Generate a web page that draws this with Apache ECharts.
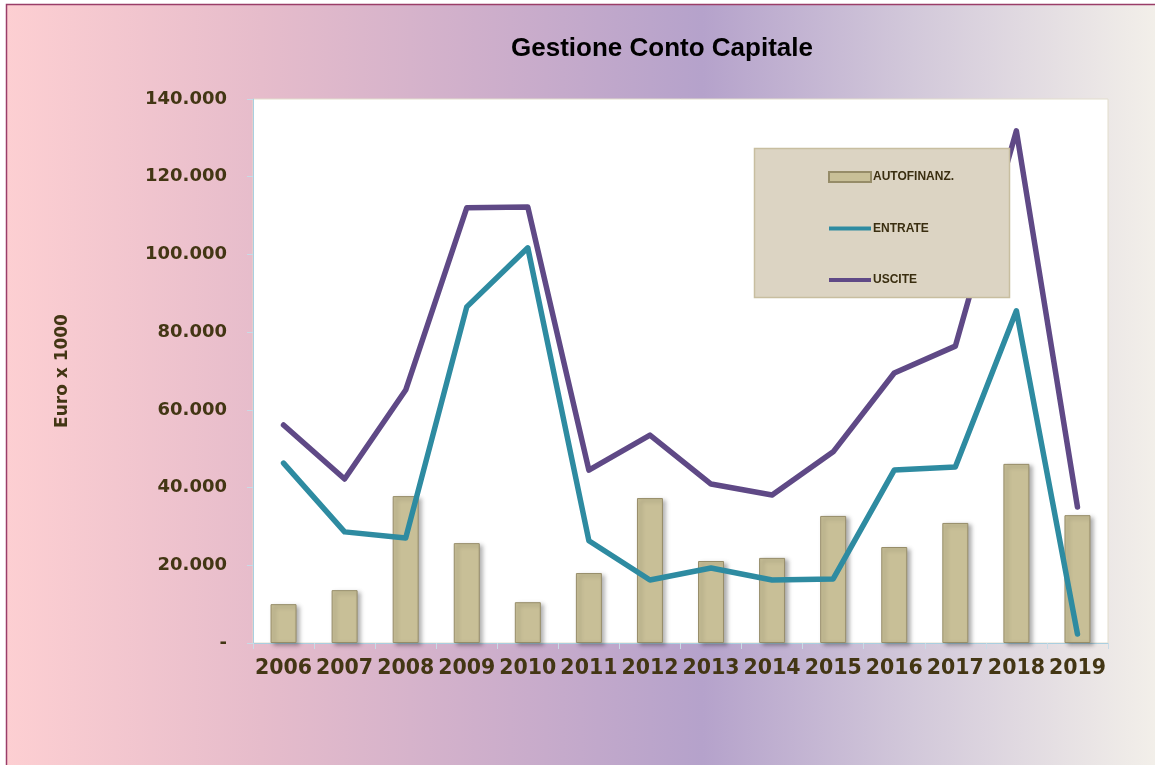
<!DOCTYPE html>
<html>
<head>
<meta charset="utf-8">
<script src="https://cdn.jsdelivr.net/npm/echarts@6/dist/echarts.min.js"></script>
<style>
html,body{margin:0;padding:0;background:#ffffff;}
#c{width:1155px;height:765px;}
</style>
</head>
<body>
<div id="c"></div>
<script>
var years = ['2006','2007','2008','2009','2010','2011','2012','2013','2014','2015','2016','2017','2018','2019'];
var autofinanz = [10000, 13600, 37800, 25700, 10500, 18000, 37300, 21100, 21900, 32700, 24700, 30900, 46100, 32900];
var entrate = [46300, 28600, 27000, 86500, 101700, 26300, 16200, 19300, 16200, 16500, 44500, 45300, 85500, 2300];
var uscite = [56100, 42200, 65100, 112000, 112200, 44500, 53500, 40900, 38100, 49200, 69500, 76400, 131800, 35000];
var yTicks = [0, 20000, 40000, 60000, 80000, 100000, 120000, 140000];

function fmt(v){
  if (v === 0) return '-';
  return String(v).replace(/\B(?=(\d{3})+(?!\d))/g, '.');
}

var chart = echarts.init(document.getElementById('c'));
var labelColor = '#433614';
chart.setOption({
  animation: false,
  backgroundColor: 'transparent',
  graphic: [
    {
      type: 'rect', z: -10, silent: true,
      shape: {x: 6.5, y: 4.5, width: 1160, height: 780},
      style: {
        fill: new echarts.graphic.LinearGradient(0, 0, 1, 0, [
          {offset: 0, color: '#fdcfd2'},
          {offset: 0.22, color: '#e6bccb'},
          {offset: 0.42, color: '#cdaecb'},
          {offset: 0.6, color: '#b5a2cb'},
          {offset: 0.78, color: '#d2c8da'},
          {offset: 1, color: '#f4f1ea'}
        ]),
        stroke: '#9a3d68', lineWidth: 1.5
      }
    },
    {
      type: 'rect', z: 10, silent: true,
      shape: {x: 754.5, y: 148.5, width: 255, height: 149},
      style: {fill: '#dcd4c3', stroke: '#c8bea0', lineWidth: 1.5}
    }
  ],
  title: {
    text: 'Gestione Conto Capitale',
    left: 657, top: 31, textAlign: 'center',
    textStyle: {fontFamily: 'Liberation Sans', fontWeight: 'bold', fontSize: 26, color: '#000000'}
  },
  legend: {
    orient: 'vertical',
    left: 823, top: 166,
    itemWidth: 42, itemHeight: 10,
    itemGap: 39.5,
    z: 20,
    data: [
      {name: 'AUTOFINANZ.', icon: 'rect'},
      {name: 'ENTRATE', icon: 'path://M0,3 L42,3 L42,7 L0,7 Z'},
      {name: 'USCITE', icon: 'path://M0,3 L42,3 L42,7 L0,7 Z'}
    ],
    textStyle: {fontFamily: 'Liberation Sans Narrow, Liberation Sans', fontWeight: 'bold', fontSize: 12, color: '#3a2e10', padding: [0,0,0,-3]}
  },
  grid: {
    left: 253, right: 47, top: 99, bottom: 122,
    show: true, backgroundColor: '#ffffff', borderColor: '#e2ddcc', borderWidth: 1
  },
  xAxis: {
    type: 'category',
    data: years,
    axisLine: {lineStyle: {color: '#a9cfe0', width: 1}},
    axisTick: {show: true, length: 6, lineStyle: {color: '#c8dbe6'}},
    axisLabel: {interval: 0, hideOverlap: false, fontFamily: 'DejaVu Sans', fontWeight: 'bold', fontSize: 20.5, color: labelColor, margin: 15}
  },
  yAxis: {
    type: 'value',
    min: 0, max: 140000, interval: 20000,
    name: 'Euro x 1000',
    nameLocation: 'middle',
    nameGap: 182,
    nameTextStyle: {fontFamily: 'DejaVu Sans', fontWeight: 'bold', fontSize: 17, color: labelColor},
    axisLine: {show: true, lineStyle: {color: '#a9cfe0', width: 1}},
    axisTick: {show: true, length: 6, lineStyle: {color: '#c8dbe6'}},
    splitLine: {show: false},
    axisLabel: {
      fontFamily: 'DejaVu Sans', fontWeight: 'bold', fontSize: 18, color: labelColor, margin: 26,
      formatter: function(v){ return yTicks.indexOf(v) >= 0 ? fmt(v) : ''; }
    }
  },
  series: [
    {
      name: 'AUTOFINANZ.', type: 'bar', data: autofinanz,
      barWidth: 26,
      itemStyle: {color: '#c8bf97', borderColor: '#968c68', borderWidth: 1,
        shadowColor: 'rgba(0,0,0,0.3)', shadowBlur: 4, shadowOffsetX: 3, shadowOffsetY: 2},
      z: 2
    },
    {
      name: 'ENTRATE', type: 'line', data: entrate,
      showSymbol: false, symbol: 'none',
      lineStyle: {color: '#2e8ba1', width: 5.5, cap: 'round', join: 'round'},
      itemStyle: {color: '#2e8ba1'},
      z: 3
    },
    {
      name: 'USCITE', type: 'line', data: uscite,
      showSymbol: false, symbol: 'none',
      lineStyle: {color: '#5f4986', width: 5.5, cap: 'round', join: 'round'},
      itemStyle: {color: '#5f4986'},
      z: 4
    }
  ]
});
</script>
</body>
</html>
